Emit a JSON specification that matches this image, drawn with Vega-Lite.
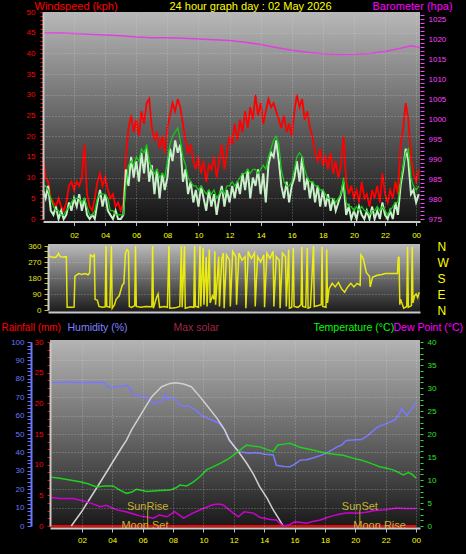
{
"$schema": "https://vega.github.io/schema/vega-lite/v6.json",
"width": 377,
"height": 516,
"autosize": {"type": "none"},
"padding": {"left": 43, "top": 12, "right": 46, "bottom": 26},
"background": "#000000",
"config": {
  "view": {"stroke": null},
  "font": "Liberation Sans",
  "axis": {"labelFont": "Liberation Sans", "labelFontSize": 8, "titleFont": "Liberation Sans", "titleFontSize": 11, "titleFontWeight": "normal", "labelOverlap": false, "labelFlush": false, "labelBound": false, "grid": false, "domain": false, "zindex": 1, "titleAngle": 0, "titleAlign": "left", "titleBaseline": "middle", "gridColor": "#d8d8d8", "gridDash": [1, 2]}
},
"datasets": {
  "wind": [
{"t":0,"g":15,"a":8,"s":7},{"t":0.17,"g":10,"a":8,"s":5},{"t":0.33,"g":9,"a":7,"s":8},{"t":0.5,"g":5,"a":5,"s":2},{"t":0.67,"g":4,"a":3,"s":1},{"t":0.83,"g":3,"a":2,"s":3},
{"t":1,"g":5,"a":2,"s":0},{"t":1.17,"g":3,"a":1,"s":2},{"t":1.33,"g":2,"a":1,"s":0},{"t":1.5,"g":4,"a":2,"s":1},{"t":1.67,"g":8,"a":3,"s":4},{"t":1.83,"g":9,"a":4,"s":2},
{"t":2,"g":7,"a":5,"s":5},{"t":2.17,"g":9,"a":5,"s":3},{"t":2.33,"g":8,"a":5,"s":6},{"t":2.5,"g":10,"a":4,"s":2},{"t":2.67,"g":18,"a":5,"s":5},{"t":2.83,"g":6,"a":3,"s":1},
{"t":3,"g":3,"a":1,"s":0},{"t":3.17,"g":2,"a":1,"s":1},{"t":3.33,"g":5,"a":2,"s":0},{"t":3.5,"g":9,"a":5,"s":4},{"t":3.67,"g":11,"a":6,"s":7},{"t":3.83,"g":8,"a":6,"s":3},
{"t":4,"g":10,"a":6,"s":6},{"t":4.17,"g":7,"a":5,"s":2},{"t":4.33,"g":5,"a":2,"s":1},{"t":4.5,"g":6,"a":2,"s":0},{"t":4.67,"g":3,"a":1,"s":2},{"t":4.83,"g":4,"a":1,"s":0},
{"t":5,"g":2,"a":1,"s":0},{"t":5.17,"g":4,"a":1,"s":1},{"t":5.33,"g":15,"a":8,"s":12},{"t":5.5,"g":22,"a":13,"s":8},{"t":5.67,"g":25,"a":14,"s":15},{"t":5.83,"g":21,"a":13,"s":10},
{"t":6,"g":24,"a":15,"s":14},{"t":6.17,"g":20,"a":14,"s":9},{"t":6.33,"g":26,"a":17,"s":16},{"t":6.5,"g":23,"a":16,"s":11},{"t":6.67,"g":28,"a":18,"s":17},{"t":6.83,"g":29,"a":14,"s":9},
{"t":7,"g":22,"a":12,"s":13},{"t":7.17,"g":19,"a":11,"s":6},{"t":7.33,"g":21,"a":12,"s":12},{"t":7.5,"g":17,"a":10,"s":5},{"t":7.67,"g":20,"a":11,"s":11},{"t":7.83,"g":16,"a":10,"s":7},
{"t":8,"g":22,"a":14,"s":10},{"t":8.17,"g":25,"a":18,"s":17},{"t":8.33,"g":28,"a":20,"s":14},{"t":8.5,"g":26,"a":21,"s":19},{"t":8.67,"g":29,"a":22,"s":16},{"t":8.83,"g":27,"a":19,"s":18},
{"t":9,"g":23,"a":15,"s":9},{"t":9.17,"g":19,"a":13,"s":12},{"t":9.33,"g":16,"a":10,"s":6},{"t":9.5,"g":18,"a":9,"s":9},{"t":9.67,"g":14,"a":8,"s":4},{"t":9.83,"g":12,"a":8,"s":7},
{"t":10,"g":15,"a":7,"s":3},{"t":10.17,"g":11,"a":8,"s":8},{"t":10.33,"g":14,"a":7,"s":5},{"t":10.5,"g":9,"a":6,"s":2},{"t":10.67,"g":13,"a":7,"s":7},{"t":10.83,"g":12,"a":6,"s":3},
{"t":11,"g":15,"a":7,"s":6},{"t":11.17,"g":10,"a":5,"s":1},{"t":11.33,"g":14,"a":6,"s":5},{"t":11.5,"g":18,"a":7,"s":8},{"t":11.67,"g":12,"a":6,"s":3},{"t":11.83,"g":16,"a":8,"s":7},
{"t":12,"g":20,"a":8,"s":4},{"t":12.17,"g":18,"a":9,"s":8},{"t":12.33,"g":23,"a":8,"s":5},{"t":12.5,"g":19,"a":9,"s":9},{"t":12.67,"g":24,"a":10,"s":6},{"t":12.83,"g":21,"a":11,"s":11},
{"t":13,"g":26,"a":11,"s":7},{"t":13.17,"g":22,"a":12,"s":12},{"t":13.33,"g":27,"a":11,"s":5},{"t":13.5,"g":24,"a":12,"s":10},{"t":13.67,"g":30,"a":12,"s":8},{"t":13.83,"g":25,"a":11,"s":12},
{"t":14,"g":28,"a":12,"s":6},{"t":14.17,"g":23,"a":13,"s":11},{"t":14.33,"g":26,"a":12,"s":4},{"t":14.5,"g":29,"a":15,"s":13},{"t":14.67,"g":27,"a":17,"s":16},{"t":14.83,"g":28,"a":19,"s":15},
{"t":15,"g":26,"a":20,"s":19},{"t":15.17,"g":24,"a":18,"s":14},{"t":15.33,"g":22,"a":12,"s":8},{"t":15.5,"g":25,"a":9,"s":5},{"t":15.67,"g":21,"a":8,"s":9},{"t":15.83,"g":23,"a":8,"s":4},
{"t":16,"g":20,"a":9,"s":8},{"t":16.17,"g":26,"a":12,"s":10},{"t":16.33,"g":30,"a":15,"s":14},{"t":16.5,"g":27,"a":16,"s":9},{"t":16.67,"g":29,"a":15,"s":15},{"t":16.83,"g":24,"a":12,"s":7},
{"t":17,"g":26,"a":10,"s":10},{"t":17.17,"g":22,"a":9,"s":5},{"t":17.33,"g":20,"a":9,"s":9},{"t":17.5,"g":16,"a":8,"s":4},{"t":17.67,"g":14,"a":8,"s":8},{"t":17.83,"g":17,"a":7,"s":3},
{"t":18,"g":13,"a":7,"s":7},{"t":18.17,"g":15,"a":6,"s":3},{"t":18.33,"g":12,"a":5,"s":6},{"t":18.5,"g":16,"a":5,"s":2},{"t":18.67,"g":11,"a":5,"s":5},{"t":18.83,"g":14,"a":4,"s":2},
{"t":19,"g":10,"a":5,"s":4},{"t":19.17,"g":13,"a":6,"s":6},{"t":19.33,"g":20,"a":10,"s":9},{"t":19.5,"g":9,"a":4,"s":1},{"t":19.67,"g":6,"a":3,"s":3},{"t":19.83,"g":8,"a":3,"s":0},
{"t":20,"g":5,"a":2,"s":2},{"t":20.17,"g":7,"a":3,"s":0},{"t":20.33,"g":4,"a":2,"s":3},{"t":20.5,"g":9,"a":3,"s":1},{"t":20.67,"g":5,"a":2,"s":0},{"t":20.83,"g":6,"a":2,"s":2},
{"t":21,"g":3,"a":1,"s":0},{"t":21.17,"g":7,"a":2,"s":3},{"t":21.33,"g":5,"a":2,"s":0},{"t":21.5,"g":8,"a":3,"s":2},{"t":21.67,"g":4,"a":2,"s":0},{"t":21.83,"g":11,"a":3,"s":4},
{"t":22,"g":6,"a":2,"s":1},{"t":22.17,"g":4,"a":1,"s":0},{"t":22.33,"g":7,"a":2,"s":2},{"t":22.5,"g":5,"a":3,"s":0},{"t":22.67,"g":9,"a":4,"s":4},{"t":22.83,"g":6,"a":4,"s":1},
{"t":23,"g":18,"a":9,"s":8},{"t":23.17,"g":22,"a":13,"s":12},{"t":23.33,"g":28,"a":16,"s":17},{"t":23.5,"g":24,"a":17,"s":14},{"t":23.67,"g":15,"a":10,"s":6},{"t":23.83,"g":11,"a":8,"s":7},
{"t":24,"g":9,"a":7,"s":4},{"t":24.17,"g":12,"a":8,"s":6}
  ],
  "baro": [
{"t":0,"p":1021.5},{"t":1,"p":1021.5},{"t":2,"p":1021.4},{"t":3,"p":1021.2},{"t":4,"p":1021.0},{"t":5,"p":1020.8},{"t":6,"p":1020.5},{"t":7,"p":1020.3},{"t":8,"p":1020.3},{"t":9,"p":1020.2},{"t":10,"p":1020.0},{"t":11,"p":1019.8},{"t":12,"p":1019.6},{"t":13,"p":1019.2},{"t":14,"p":1018.6},{"t":15,"p":1017.9},{"t":16,"p":1017.2},{"t":17,"p":1016.7},{"t":18,"p":1016.3},{"t":19,"p":1016.1},{"t":20,"p":1016.2},{"t":21,"p":1016.4},{"t":22,"p":1016.9},{"t":23,"p":1017.7},{"t":23.7,"p":1018.3},{"t":24.25,"p":1017.8}
  ],
  "dir": [
{"t":0.35,"d":305},{"t":0.5,"d":300},{"t":0.7,"d":295},{"t":0.85,"d":298},{"t":1.0,"d":318},{"t":1.1,"d":300},{"t":1.3,"d":298},{"t":1.5,"d":300},{"t":1.55,"d":15},{"t":1.8,"d":15},{"t":2.0,"d":17},{"t":2.05,"d":190},{"t":2.3,"d":205},{"t":2.5,"d":200},{"t":2.7,"d":205},{"t":2.9,"d":198},{"t":3.0,"d":210},{"t":3.05,"d":310},{"t":3.2,"d":300},{"t":3.3,"d":310},{"t":3.35,"d":60},{"t":3.5,"d":55},{"t":3.6,"d":20},{"t":3.8,"d":15},{"t":4.0,"d":18},{"t":4.05,"d":360},{"t":4.1,"d":20},{"t":4.3,"d":15},{"t":4.4,"d":360},{"t":4.45,"d":10},{"t":4.6,"d":30},{"t":4.7,"d":60},{"t":4.9,"d":80},{"t":5.0,"d":110},{"t":5.1,"d":140},{"t":5.2,"d":150},{"t":5.3,"d":320},{"t":5.4,"d":340},{"t":5.5,"d":330},{"t":5.55,"d":20},{"t":5.7,"d":15},{"t":5.9,"d":25},{"t":5.95,"d":360},{"t":6.0,"d":20},{"t":6.3,"d":15},{"t":6.6,"d":20},{"t":7.0,"d":18},{"t":7.05,"d":360},{"t":7.1,"d":10},{"t":7.3,"d":70},{"t":7.4,"d":90},{"t":7.5,"d":15},{"t":7.8,"d":20},{"t":8.0,"d":15},{"t":8.1,"d":360},{"t":8.15,"d":10},{"t":8.5,"d":12},{"t":8.8,"d":20},{"t":8.9,"d":360},{"t":8.95,"d":15},{"t":9.1,"d":360},{"t":9.15,"d":10},{"t":9.5,"d":18},{"t":9.7,"d":15},{"t":9.75,"d":360},{"t":9.8,"d":20},{"t":10.0,"d":15},{"t":10.1,"d":360},{"t":10.15,"d":20},{"t":10.3,"d":350},{"t":10.35,"d":30},{"t":10.5,"d":300},{"t":10.55,"d":20},{"t":10.7,"d":340},{"t":10.75,"d":40},{"t":10.9,"d":80},{"t":11.0,"d":60},{"t":11.05,"d":330},{"t":11.1,"d":30},{"t":11.3,"d":300},{"t":11.35,"d":20},{"t":11.5,"d":290},{"t":11.6,"d":320},{"t":11.65,"d":10},{"t":11.8,"d":310},{"t":12.0,"d":280},{"t":12.05,"d":20},{"t":12.2,"d":330},{"t":12.4,"d":300},{"t":12.45,"d":30},{"t":12.6,"d":320},{"t":12.8,"d":280},{"t":13.0,"d":300},{"t":13.05,"d":10},{"t":13.2,"d":330},{"t":13.4,"d":290},{"t":13.6,"d":320},{"t":13.65,"d":20},{"t":13.8,"d":300},{"t":14.0,"d":270},{"t":14.2,"d":310},{"t":14.25,"d":15},{"t":14.4,"d":320},{"t":14.6,"d":290},{"t":14.8,"d":330},{"t":14.85,"d":20},{"t":15.0,"d":300},{"t":15.2,"d":280},{"t":15.25,"d":10},{"t":15.4,"d":320},{"t":15.6,"d":300},{"t":15.65,"d":20},{"t":15.8,"d":340},{"t":15.85,"d":10},{"t":16.0,"d":15},{"t":16.1,"d":350},{"t":16.15,"d":20},{"t":16.4,"d":15},{"t":16.6,"d":30},{"t":16.65,"d":355},{"t":16.7,"d":20},{"t":16.9,"d":15},{"t":17.0,"d":350},{"t":17.05,"d":10},{"t":17.2,"d":15},{"t":17.4,"d":360},{"t":17.45,"d":20},{"t":17.7,"d":25},{"t":17.9,"d":30},{"t":17.95,"d":355},{"t":18.0,"d":20},{"t":18.2,"d":15},{"t":18.25,"d":340},{"t":18.3,"d":40},{"t":18.4,"d":120},{"t":18.6,"d":150},{"t":18.8,"d":130},{"t":19.0,"d":155},{"t":19.2,"d":120},{"t":19.4,"d":100},{"t":19.6,"d":130},{"t":19.8,"d":150},{"t":20.0,"d":130},{"t":20.2,"d":150},{"t":20.4,"d":140},{"t":20.45,"d":310},{"t":20.6,"d":290},{"t":20.8,"d":210},{"t":21.0,"d":190},{"t":21.05,"d":130},{"t":21.2,"d":185},{"t":21.5,"d":195},{"t":21.8,"d":200},{"t":22.0,"d":205},{"t":22.4,"d":205},{"t":22.8,"d":205},{"t":22.85,"d":290},{"t":22.9,"d":300},{"t":22.95,"d":30},{"t":23.0,"d":60},{"t":23.2,"d":10},{"t":23.4,"d":20},{"t":23.45,"d":355},{"t":23.5,"d":15},{"t":23.7,"d":25},{"t":23.75,"d":355},{"t":23.8,"d":40},{"t":23.9,"d":80},{"t":24.0,"d":90},{"t":24.1,"d":70},{"t":24.2,"d":100}
  ],
  "hum": [
{"t":0,"h":78},{"t":0.5,"h":78},{"t":1,"h":78.2},{"t":1.5,"h":78},{"t":2,"h":78},{"t":2.5,"h":78.1},{"t":3,"h":78},{"t":3.5,"h":78},{"t":3.7,"h":75.5},{"t":4,"h":75},{"t":4.3,"h":75.8},{"t":4.6,"h":76},{"t":5.0,"h":76.5},{"t":5.2,"h":74},{"t":5.4,"h":71.5},{"t":5.9,"h":70.5},{"t":6.2,"h":70.5},{"t":6.4,"h":68},{"t":6.8,"h":66.5},{"t":7.0,"h":67.5},{"t":7.3,"h":68},{"t":7.45,"h":71.5},{"t":7.6,"h":69},{"t":7.9,"h":70},{"t":8.2,"h":68.5},{"t":8.4,"h":66},{"t":8.8,"h":65},{"t":9.0,"h":65.5},{"t":9.2,"h":64.5},{"t":9.5,"h":63},{"t":9.9,"h":60},{"t":10.3,"h":58.5},{"t":10.6,"h":57.5},{"t":11.0,"h":56},{"t":11.4,"h":52},{"t":11.7,"h":47},{"t":12.1,"h":42.4},{"t":12.4,"h":40.4},{"t":12.7,"h":40},{"t":13.0,"h":39.6},{"t":13.4,"h":39.8},{"t":13.7,"h":39.6},{"t":14.0,"h":39},{"t":14.3,"h":38.8},{"t":14.6,"h":38.6},{"t":14.8,"h":33},{"t":15.3,"h":32.4},{"t":15.7,"h":32.2},{"t":16.0,"h":33.5},{"t":16.4,"h":35.9},{"t":16.8,"h":36},{"t":17.2,"h":37},{"t":17.6,"h":38},{"t":18.1,"h":39.6},{"t":18.5,"h":41.5},{"t":18.8,"h":43},{"t":19.1,"h":44},{"t":19.4,"h":46.5},{"t":19.8,"h":46.7},{"t":20.4,"h":47},{"t":20.8,"h":49},{"t":21.2,"h":52},{"t":21.5,"h":54},{"t":22.0,"h":55.5},{"t":22.6,"h":57.6},{"t":22.9,"h":61},{"t":23.05,"h":64},{"t":23.2,"h":62},{"t":23.4,"h":60},{"t":23.7,"h":63.5},{"t":24.0,"h":67}
  ],
  "temp": [
{"t":0,"c":10.6},{"t":0.55,"c":10.4},{"t":1.2,"c":10},{"t":1.87,"c":9.6},{"t":2.4,"c":9.2},{"t":2.97,"c":8.5},{"t":3.5,"c":8.7},{"t":4.06,"c":8.7},{"t":4.5,"c":7.8},{"t":4.94,"c":7.1},{"t":5.3,"c":7.4},{"t":5.6,"c":8.0},{"t":6.26,"c":7.5},{"t":6.7,"c":7.6},{"t":7.14,"c":7.7},{"t":7.8,"c":7.8},{"t":8.2,"c":8.3},{"t":8.45,"c":8.9},{"t":8.9,"c":8.7},{"t":9.3,"c":9.5},{"t":9.77,"c":10.7},{"t":10.2,"c":12.2},{"t":10.6,"c":12.8},{"t":11.1,"c":13.6},{"t":11.7,"c":14.7},{"t":12.4,"c":16.5},{"t":12.84,"c":17.6},{"t":13.2,"c":17.4},{"t":13.7,"c":17.2},{"t":14.2,"c":16.6},{"t":14.6,"c":16.2},{"t":14.9,"c":17.6},{"t":15.3,"c":17.8},{"t":15.7,"c":18.0},{"t":16.0,"c":17.6},{"t":16.35,"c":17.1},{"t":16.8,"c":16.8},{"t":17.2,"c":16.5},{"t":17.6,"c":16.2},{"t":18.1,"c":15.8},{"t":18.6,"c":15.6},{"t":19.2,"c":15.4},{"t":19.9,"c":14.7},{"t":20.3,"c":14.4},{"t":20.7,"c":14.0},{"t":21.2,"c":13.4},{"t":21.6,"c":12.9},{"t":22.0,"c":12.6},{"t":22.5,"c":12.2},{"t":22.8,"c":11.7},{"t":23.15,"c":11.1},{"t":23.5,"c":11.6},{"t":23.75,"c":11.2},{"t":24.0,"c":10.4}
  ],
  "dew": [
{"t":0,"c":6.2},{"t":0.55,"c":6.0},{"t":1.43,"c":6.0},{"t":1.9,"c":5.6},{"t":2.3,"c":5.3},{"t":2.8,"c":4.7},{"t":3.2,"c":4.2},{"t":3.6,"c":4.5},{"t":4.3,"c":3.5},{"t":4.9,"c":3.1},{"t":5.4,"c":2.6},{"t":5.8,"c":2.2},{"t":6.2,"c":2.0},{"t":6.7,"c":1.7},{"t":7.1,"c":2.4},{"t":7.6,"c":2.0},{"t":8.1,"c":3.1},{"t":8.7,"c":1.7},{"t":9.3,"c":2.8},{"t":10.0,"c":3.8},{"t":10.6,"c":4.6},{"t":11.0,"c":4.8},{"t":11.3,"c":4.6},{"t":11.7,"c":3.5},{"t":12.3,"c":2.0},{"t":12.7,"c":3.1},{"t":13.3,"c":2.8},{"t":13.7,"c":1.9},{"t":14.4,"c":1.4},{"t":14.8,"c":1.3},{"t":15.25,"c":0.0},{"t":15.7,"c":0.3},{"t":16.0,"c":0.9},{"t":16.35,"c":0.8},{"t":16.8,"c":0.6},{"t":17.2,"c":1.0},{"t":17.7,"c":1.3},{"t":18.1,"c":1.8},{"t":18.5,"c":2.2},{"t":19.0,"c":2.6},{"t":19.4,"c":2.8},{"t":20.3,"c":2.8},{"t":20.7,"c":3.0},{"t":21.2,"c":3.3},{"t":22.1,"c":3.6},{"t":22.7,"c":3.9},{"t":23.3,"c":3.8},{"t":24.0,"c":3.8}
  ],
  "solar": [
{"t":1.3,"w":0},{"t":2.0,"w":80},{"t":2.75,"w":178},{"t":3.3,"w":250},{"t":3.84,"w":322},{"t":4.6,"w":424},{"t":4.94,"w":467},{"t":5.27,"w":522},{"t":5.93,"w":612},{"t":6.6,"w":703},{"t":7.25,"w":757},{"t":7.8,"w":775},{"t":8.2,"w":779},{"t":8.7,"w":772},{"t":9.2,"w":757},{"t":9.7,"w":710},{"t":10.3,"w":648},{"t":10.9,"w":585},{"t":11.4,"w":522},{"t":11.7,"w":467},{"t":12.3,"w":405},{"t":12.85,"w":341},{"t":13.3,"w":280},{"t":13.7,"w":214},{"t":14.2,"w":150},{"t":14.6,"w":87},{"t":15.0,"w":35},{"t":15.25,"w":0}
  ],
  "rain": [{"t":0,"r":0},{"t":24,"r":0}],
  "sun": [{"label":"SunRise","t":6.33},{"label":"SunSet","t":20.3}],
  "moon": [{"label":"Moon Set","t":6.15},{"label":"Moon Rise","t":21.6}]
},
"resolve": {"scale": {"x": "independent", "y": "independent"}, "axis": {"x": "independent", "y": "independent"}},
"layer": [
  {"data": {"values": [{}]},
   "mark": {"type": "rect", "fill": {"gradient": "linear", "x1": 0, "y1": 0, "x2": 0, "y2": 1, "stops": [{"offset": 0, "color": "#b8b8b8"}, {"offset": 0.5, "color": "#666666"}, {"offset": 1, "color": "#141414"}]}},
   "encoding": {
     "x": {"datum": 0, "type": "quantitative", "scale": {"domain": [0, 24.25], "range": [0, 377], "nice": false, "zero": false}, "axis": null},
     "x2": {"datum": 24.25},
     "y": {"datum": -0.48, "type": "quantitative", "scale": {"domain": [0, 50], "range": [207, 0], "nice": false, "zero": false}, "axis": null},
     "y2": {"datum": 50}}},
  {"data": {"name": "wind"},
   "mark": {"type": "line", "color": "#ff0000", "strokeWidth": 1.8},
   "encoding": {
     "x": {"field": "t", "type": "quantitative", "scale": {"domain": [0, 24.25], "range": [0, 377], "nice": false, "zero": false},
           "axis": {"orient": "top", "values": [2,4,6,8,10,12,14,16,18,20,22,24], "grid": true, "gridOpacity": 0.45, "labels": false, "ticks": false, "domain": false, "zindex": 1,
                    "title": "24 hour graph day : 02 May 2026", "titleColor": "#ffff00", "titleX": 207, "titleY": -6, "titleAlign": "center", "titleBaseline": "middle", "titleAngle": 0}},
     "y": {"field": "g", "type": "quantitative", "scale": {"domain": [0, 50], "range": [207, 0], "nice": false, "zero": false},
           "axis": {"orient": "left", "values": [0,1,2,3,4,5,6,7,8,9,10,11,12,13,14,15,16,17,18,19,20,21,22,23,24,25,26,27,28,29,30,31,32,33,34,35,36,37,38,39,40,41,42,43,44,45,46,47,48,49,50],
                    "labelExpr": "datum.value % 5 === 0 ? '' + datum.value : ''", "labelColor": "#ff0000", "ticks": true, "tickColor": "#ff0000", "tickSize": 3, "labelPadding": 5,
                    "domain": true, "domainColor": "#c8c8c8", "domainWidth": 2, "grid": true, "zindex": 1,
                    "gridOpacity": {"condition": {"test": "datum.value % 5 === 0 && datum.value > 0 && datum.value < 50", "value": 0.45}, "value": 0},
                    "title": "Windspeed (kph)", "titleColor": "#ff0000", "titleX": -9, "titleY": -6, "titleAngle": 0, "titleAlign": "left", "titleBaseline": "middle"}}}},
  {"data": {"name": "wind"},
   "mark": {"type": "line", "color": "#c8f0c8", "strokeWidth": 2},
   "encoding": {
     "x": {"field": "t", "type": "quantitative", "scale": {"domain": [0, 24.25], "range": [0, 377], "nice": false, "zero": false}, "axis": null},
     "y": {"field": "s", "type": "quantitative", "scale": {"domain": [0, 50], "range": [207, 0], "nice": false, "zero": false}, "axis": null}}},
  {"data": {"name": "wind"},
   "mark": {"type": "line", "color": "#14c814", "strokeWidth": 1.3},
   "encoding": {
     "x": {"field": "t", "type": "quantitative", "scale": {"domain": [0, 24.25], "range": [0, 377], "nice": false, "zero": false}, "axis": null},
     "y": {"field": "a", "type": "quantitative", "scale": {"domain": [0, 50], "range": [207, 0], "nice": false, "zero": false}, "axis": null}}},
  {"data": {"name": "baro"},
   "mark": {"type": "line", "color": "#e040e0", "strokeWidth": 1.5},
   "encoding": {
     "x": {"field": "t", "type": "quantitative", "scale": {"domain": [0, 24.25], "range": [0, 377], "nice": false, "zero": false},
           "axis": {"orient": "bottom", "offset": -306.5, "values": [2,4,6,8,10,12,14,16,18,20,22,24],
                    "labelExpr": "datum.value == 24 ? '00' : (datum.value < 10 ? '0' + datum.value : '' + datum.value)",
                    "labelColor": "#ffff00", "labelPadding": 6, "ticks": true, "tickColor": "#c0c0c0", "tickSize": 4,
                    "domain": true, "domainColor": "#c8c8c8", "domainWidth": 2, "title": null, "zindex": 1}},
     "y": {"field": "p", "type": "quantitative", "scale": {"domain": [975, 1026.75], "range": [207, 0], "nice": false, "zero": false},
           "axis": {"orient": "right", "values": [975,976,977,978,979,980,981,982,983,984,985,986,987,988,989,990,991,992,993,994,995,996,997,998,999,1000,1001,1002,1003,1004,1005,1006,1007,1008,1009,1010,1011,1012,1013,1014,1015,1016,1017,1018,1019,1020,1021,1022,1023,1024,1025,1026],
                    "labelExpr": "datum.value % 5 === 0 ? '' + datum.value : ''", "labelColor": "#ff40ff", "ticks": true, "tickColor": "#ff40ff", "tickSize": 4, "labelPadding": 4,
                    "title": "Barometer (hpa)", "titleColor": "#ff00ff", "titleX": -48, "titleY": -6, "titleAngle": 0, "titleAlign": "left", "titleBaseline": "middle", "zindex": 1}}}},
  {"data": {"values": [{}]},
   "mark": {"type": "rect", "fill": {"gradient": "linear", "x1": 0, "y1": 0, "x2": 0, "y2": 1, "stops": [{"offset": 0, "color": "#bcbcbc"}, {"offset": 0.5, "color": "#6a6a6a"}, {"offset": 1, "color": "#1c1c1c"}]}},
   "encoding": {
     "x": {"datum": 0.32, "type": "quantitative", "scale": {"domain": [0.32, 24.25], "range": [5, 377], "nice": false, "zero": false}, "axis": null},
     "x2": {"datum": 24.25},
     "y": {"datum": -11.25, "type": "quantitative", "scale": {"domain": [0, 360], "range": [298, 234], "nice": false, "zero": false}, "axis": null},
     "y2": {"datum": 371.25}}},
  {"data": {"name": "dir"},
   "mark": {"type": "line", "color": "#ffff00", "opacity": 0.85, "strokeWidth": 1.5},
   "encoding": {
     "x": {"field": "t", "type": "quantitative", "scale": {"domain": [0.32, 24.25], "range": [5, 377], "nice": false, "zero": false},
           "axis": {"orient": "bottom", "offset": -216, "labels": false, "ticks": false, "domain": true, "domainColor": "#c8c8c8", "domainWidth": 2, "title": null, "zindex": 1}},
     "y": {"field": "d", "type": "quantitative", "scale": {"domain": [0, 360], "range": [298, 234], "nice": false, "zero": false},
           "axis": {"orient": "left", "offset": -5, "values": [0,30,60,90,120,150,180,210,240,270,300,330,360],
                    "labelExpr": "datum.value % 90 === 0 ? '' + datum.value : ''", "labelColor": "#e0e020", "ticks": true, "tickColor": "#c8c820", "tickSize": 4, "labelPadding": 3,
                    "domain": true, "domainColor": "#d0d0d0", "domainWidth": 2, "grid": true, "zindex": 1,
                    "gridOpacity": {"condition": {"test": "datum.value % 90 === 0 && datum.value > 0 && datum.value < 360", "value": 0.45}, "value": 0},
                    "title": null}}}},
  {"data": {"values": [{}]},
   "mark": {"type": "rule", "opacity": 0},
   "encoding": {
     "y": {"datum": 0, "type": "quantitative", "scale": {"domain": [0, 360], "range": [298, 234], "nice": false, "zero": false},
           "axis": {"orient": "right", "values": [0, 90, 180, 270, 360],
                    "labelExpr": "datum.value == 0 || datum.value == 360 ? 'N' : (datum.value == 90 ? 'E' : (datum.value == 180 ? 'S' : 'W'))",
                    "labelColor": "#ffff00", "labelFontSize": 12, "labelAlign": "left", "ticks": false, "tickSize": 0, "labelPadding": 17, "title": null, "zindex": 1}}}},
  {"data": {"values": [{}]},
   "mark": {"type": "rect", "fill": {"gradient": "linear", "x1": 0, "y1": 0, "x2": 0, "y2": 1, "stops": [{"offset": 0, "color": "#b4b4b4"}, {"offset": 0.55, "color": "#606060"}, {"offset": 1, "color": "#181818"}]}},
   "encoding": {
     "x": {"datum": -0.1, "type": "quantitative", "scale": {"domain": [-0.1, 24.26], "range": [7, 377], "nice": false, "zero": false}, "axis": null},
     "x2": {"datum": 24.26},
     "y": {"datum": -1.09, "type": "quantitative", "scale": {"domain": [0, 100], "range": [514, 330], "nice": false, "zero": false}, "axis": null},
     "y2": {"datum": 101.09}}},
  {"data": {"name": "hum"},
   "mark": {"type": "line", "color": "#7878ff", "strokeWidth": 1.5},
   "encoding": {
     "x": {"field": "t", "type": "quantitative", "scale": {"domain": [-0.1, 24.26], "range": [7, 377], "nice": false, "zero": false},
           "axis": {"orient": "bottom", "values": [2,4,6,8,10,12,14,16,18,20,22,24],
                    "labelExpr": "datum.value == 24 ? '00' : (datum.value < 10 ? '0' + datum.value : '' + datum.value)",
                    "labelColor": "#ffff00", "labelPadding": 4, "ticks": true, "tickColor": "#c0c0c0", "tickSize": 4,
                    "domain": true, "domainColor": "#c8c8c8", "domainWidth": 2, "title": null, "zindex": 1}},
     "y": {"field": "h", "type": "quantitative", "scale": {"domain": [0, 100], "range": [514, 330], "nice": false, "zero": false},
           "axis": {"orient": "left", "offset": 12, "values": [0,2,4,6,8,10,12,14,16,18,20,22,24,26,28,30,32,34,36,38,40,42,44,46,48,50,52,54,56,58,60,62,64,66,68,70,72,74,76,78,80,82,84,86,88,90,92,94,96,98,100],
                    "labelExpr": "datum.value % 10 === 0 ? '' + datum.value : ''", "labelColor": "#6878ff", "ticks": true, "tickColor": "#6878ff", "tickSize": 4, "labelPadding": 3,
                    "domain": true, "domainColor": "#6878ff", "domainWidth": 2, "grid": true, "zindex": 1,
                    "gridOpacity": {"condition": {"test": "datum.value % 10 === 0 && datum.value > 0 && datum.value < 100", "value": 0.45}, "value": 0},
                    "title": "Humidity (%)", "titleColor": "#8080ff", "titleFontSize": 10.5, "titleX": 36, "titleY": 315, "titleAngle": 0, "titleAlign": "left", "titleBaseline": "middle"}}}},
  {"data": {"name": "rain"},
   "mark": {"type": "line", "color": "#ff0000", "strokeWidth": 2},
   "encoding": {
     "x": {"field": "t", "type": "quantitative", "scale": {"domain": [-0.1, 24.26], "range": [7, 377], "nice": false, "zero": false},
           "axis": {"orient": "top", "values": [2,4,6,8,10,12,14,16,18,20,22,24], "grid": true, "gridOpacity": 0.45, "labels": false, "ticks": false, "domain": false, "title": null, "zindex": 1}},
     "y": {"field": "r", "type": "quantitative", "scale": {"domain": [0, 30], "range": [514, 330], "nice": false, "zero": false},
           "axis": {"orient": "left", "offset": -7, "values": [0,1.25,2.5,3.75,5,6.25,7.5,8.75,10,11.25,12.5,13.75,15,16.25,17.5,18.75,20,21.25,22.5,23.75,25,26.25,27.5,28.75,30],
                    "labelExpr": "datum.value % 5 === 0 ? '' + datum.value : ''", "labelColor": "#ff0000", "ticks": true, "tickColor": "#ff0000", "tickSize": 3, "labelPadding": 4,
                    "domain": true, "domainColor": "#c8c8c8", "domainWidth": 2, "zindex": 1,
                    "title": "Rainfall (mm)", "titleColor": "#ff0000", "titleFontSize": 10, "titleX": -49, "titleY": 315, "titleAngle": 0, "titleAlign": "left", "titleBaseline": "middle"}}}},
  {"data": {"name": "solar"},
   "mark": {"type": "line", "color": "#d0d0d0", "strokeWidth": 1.5},
   "encoding": {
     "x": {"field": "t", "type": "quantitative", "scale": {"domain": [-0.1, 24.26], "range": [7, 377], "nice": false, "zero": false}, "axis": null},
     "y": {"field": "w", "type": "quantitative", "scale": {"domain": [0, 1000], "range": [514, 330], "nice": false, "zero": false},
           "axis": {"orient": "left", "labels": false, "ticks": false, "domain": false, "zindex": 1,
                    "title": "Max solar", "titleColor": "#a02848", "titleFontSize": 10.5, "titleX": 130, "titleY": 315, "titleAngle": 0, "titleAlign": "left", "titleBaseline": "middle"}}}},
  {"data": {"name": "temp"},
   "mark": {"type": "line", "color": "#20d020", "strokeWidth": 1.5},
   "encoding": {
     "x": {"field": "t", "type": "quantitative", "scale": {"domain": [-0.1, 24.26], "range": [7, 377], "nice": false, "zero": false}, "axis": null},
     "y": {"field": "c", "type": "quantitative", "scale": {"domain": [0, 40], "range": [514, 330], "nice": false, "zero": false},
           "axis": {"orient": "right", "values": [0,1.25,2.5,3.75,5,6.25,7.5,8.75,10,11.25,12.5,13.75,15,16.25,17.5,18.75,20,21.25,22.5,23.75,25,26.25,27.5,28.75,30,31.25,32.5,33.75,35,36.25,37.5,38.75,40],
                    "labelExpr": "datum.value % 5 === 0 ? '' + datum.value : ''", "labelColor": "#30e030", "ticks": true, "tickColor": "#30e030", "tickSize": 3, "labelPadding": 4, "zindex": 1,
                    "title": "Temperature (°C)", "titleColor": "#00ff00", "titleFontSize": 10.5, "titleX": -107, "titleY": 315, "titleAngle": 0, "titleAlign": "left", "titleBaseline": "middle"}}}},
  {"data": {"name": "dew"},
   "mark": {"type": "line", "color": "#d000d0", "strokeWidth": 1.5},
   "encoding": {
     "x": {"field": "t", "type": "quantitative", "scale": {"domain": [-0.1, 24.26], "range": [7, 377], "nice": false, "zero": false}, "axis": null},
     "y": {"field": "c", "type": "quantitative", "scale": {"domain": [0, 40], "range": [514, 330], "nice": false, "zero": false},
           "axis": {"orient": "right", "labels": false, "ticks": false, "domain": false, "zindex": 1,
                    "title": "Dew Point (°C)", "titleColor": "#ff00ff", "titleFontSize": 10.5, "titleX": -27, "titleY": 315, "titleAngle": 0, "titleAlign": "left", "titleBaseline": "middle"}}}},
  {"data": {"name": "sun"},
   "mark": {"type": "rule", "color": "#b0a020", "strokeWidth": 1},
   "encoding": {
     "x": {"field": "t", "type": "quantitative", "scale": {"domain": [-0.1, 24.26], "range": [7, 377], "nice": false, "zero": false}, "axis": null},
     "y": {"datum": 0, "type": "quantitative", "scale": {"domain": [0, 40], "range": [514, 330], "nice": false, "zero": false}, "axis": null},
     "y2": {"datum": 3.5}}},
  {"data": {"name": "sun"},
   "mark": {"type": "text", "color": "#c8b030", "fontSize": 11, "font": "Liberation Sans", "baseline": "middle", "align": "center"},
   "encoding": {
     "x": {"field": "t", "type": "quantitative", "scale": {"domain": [-0.1, 24.26], "range": [7, 377], "nice": false, "zero": false}, "axis": null},
     "y": {"datum": 4.1, "type": "quantitative", "scale": {"domain": [0, 40], "range": [514, 330], "nice": false, "zero": false}, "axis": null},
     "text": {"field": "label"}}},
  {"data": {"name": "moon"},
   "mark": {"type": "text", "color": "#c8b030", "fontSize": 11, "font": "Liberation Sans", "baseline": "middle", "align": "center"},
   "encoding": {
     "x": {"field": "t", "type": "quantitative", "scale": {"domain": [-0.1, 24.26], "range": [7, 377], "nice": false, "zero": false}, "axis": null},
     "y": {"datum": 0, "type": "quantitative", "scale": {"domain": [0, 40], "range": [514, 330], "nice": false, "zero": false}, "axis": null},
     "text": {"field": "label"}}}
]
}
